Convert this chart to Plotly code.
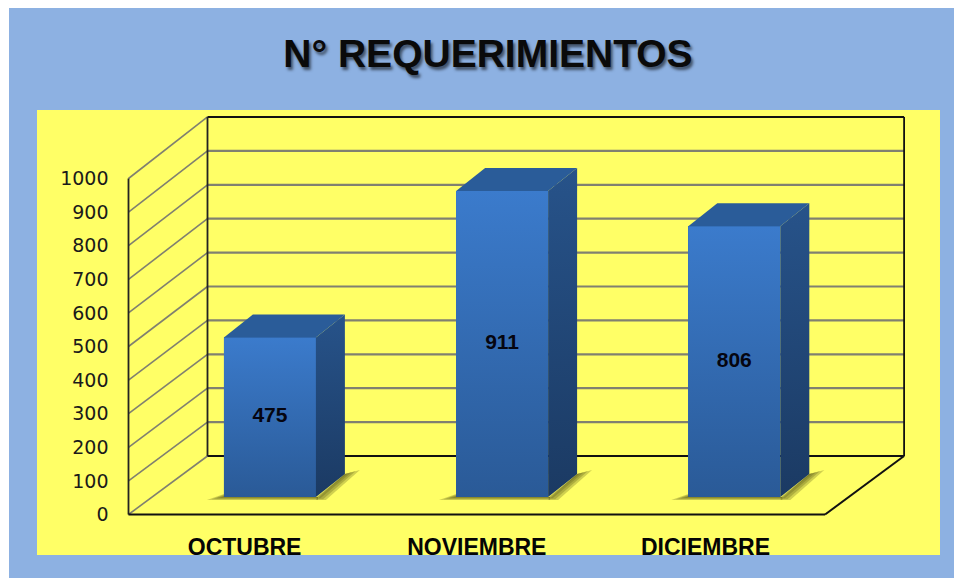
import plotly.graph_objects as go

months = ["OCTUBRE", "NOVIEMBRE", "DICIEMBRE"]
month_ticks = [0.5, 1.5, 2.485]
requirements = [475, 911, 806]
y_ticks = [0, 100, 200, 300, 400, 500, 600, 700, 800, 900, 1000]
title_text = "N° REQUERIMIENTOS"

W, H = 954, 578
X0, Y0 = 128.5, 514.5          # front-left origin of the 3D box, in pixels
UX, UY = 232.2, 0.336          # pixels per category, pixels per value
FONT_BOLD = "Liberation Sans, Arial"


def dx(px):
    return px / UX


def dy(px):
    return px / UY


XR = [-X0 / UX, (W - X0) / UX]
YR = [-(H - Y0) / UY, Y0 / UY]
DEPTH_X, DEPTH_Y = 79.0, 58.5


def wall(col, v, d):
    """Project (category position, value, depth 0..1) on to the axes."""
    return col + dx(DEPTH_X * d), v * (1 + 0.009 * d) + dy(DEPTH_Y * d)


fig = go.Figure()


def line(points, color, width, axes=("x", "y")):
    fig.add_trace(go.Scatter(
        x=[p[0] for p in points], y=[p[1] for p in points], mode="lines",
        line=dict(color=color, width=width), hoverinfo="skip", showlegend=False,
        xaxis=axes[0], yaxis=axes[1],
    ))


n = len(months)
top = y_ticks[-1]
GRID = "#808070"
for v in y_ticks:
    if v:
        line([wall(0, v, 0), wall(0, v, 1)], GRID, 1.6)
        if v < top:
            line([wall(0, v, 1), wall(n, v, 1)], GRID, 2.2)
line([wall(0, 0, 0), wall(0, 0, 1)], GRID, 1.6)
line([wall(0, 0, 1), wall(n, 0, 1)], "#111111", 1.8)
line([wall(0, top, 1), wall(n, top, 1)], "#111111", 2)
line([wall(0, 0, 1), wall(0, top, 1)], "#222222", 1.8)
line([wall(n, 0, 1), wall(n, top, 1)], "#111111", 1.8)
line([wall(0, 0, 0), wall(0, top, 0)], "#222222", 1.8)
line([wall(0, 0, 0), wall(n, 0, 0)], "#111111", 2.2)
line([wall(n, 0, 0), wall(n, 0, 1)], "#111111", 2)

# bars: the front plane sits part-way into the box
BAR_W = dx(92)
BAR_SHIFT = dx(25.3)
BAR_BASE = dy(17.5)
SIDE_X, SIDE_Y = dx(29), dy(23)
centers = [i + 0.5 + BAR_SHIFT for i in range(n)]

fig.add_trace(go.Bar(
    x=centers, y=requirements, base=[BAR_BASE] * n, width=[BAR_W] * n,
    marker=dict(color="#316AB0", line=dict(width=0)), hoverinfo="skip",
    showlegend=False, xaxis="x2", yaxis="y2",
))


def poly(xs, ys, color=None, gradient=None):
    t = go.Scatter(
        x=xs + xs[:1], y=ys + ys[:1], mode="lines", fill="toself",
        line=dict(width=0), hoverinfo="skip", showlegend=False,
        xaxis="x2", yaxis="y2",
    )
    if gradient:
        t.fillgradient = gradient
    else:
        t.fillcolor = color
    fig.add_trace(t)


SHADOW = "rgba(80,80,20,0.27)"
for c in centers:
    l, r = c - BAR_W / 2, c + BAR_W / 2
    b = BAR_BASE
    # soft floor shadow, built up from growing translucent layers
    for s in (1.0, 0.72, 0.45, 0.2):
        poly([r, r + SIDE_X, r + SIDE_X + dx(15 * s), r + dx(10 * s)],
             [b - dy(3 * s), b + SIDE_Y, b + SIDE_Y + dy(4 * s), b - dy(3 * s)],
             color=SHADOW)
        poly([l - dx(17 * s), r + dx(2), r + dx(2), l],
             [b - dy(3 * s), b - dy(3 * s), b, b + dy(3 * s)],
             color=SHADOW)

for c, v in zip(centers, requirements):
    l, r = c - BAR_W / 2, c + BAR_W / 2
    b, t = BAR_BASE, BAR_BASE + v
    # front
    poly([l, r, r, l], [b, b, t, t],
         gradient=dict(type="vertical", colorscale=[[0, "#2A5A97"], [1, "#3B7BCC"]]))
    # side
    poly([r, r + SIDE_X, r + SIDE_X, r], [b, b + SIDE_Y, t + SIDE_Y, t],
         gradient=dict(type="vertical", colorscale=[[0, "#1B3A63"], [1, "#27538A"]]))
    # top
    poly([l, r, r + SIDE_X, l + SIDE_X], [t, t, t + SIDE_Y, t + SIDE_Y], color="#2A5C99")

fig.add_trace(go.Scatter(
    x=centers, y=[BAR_BASE + v / 2 for v in requirements],
    text=[str(v) for v in requirements], mode="text",
    textfont=dict(family=FONT_BOLD, size=21, color="#050510", weight="bold"),
    hoverinfo="skip", showlegend=False, xaxis="x2", yaxis="y2",
))

fig.update_layout(
    width=W, height=H, margin=dict(l=0, r=0, t=0, b=0),
    paper_bgcolor="white", plot_bgcolor="rgba(0,0,0,0)", bargap=0,
    showlegend=False,
    title=dict(
        text=title_text, x=488 / W, xref="paper", xanchor="center",
        y=1 - 53 / H, yref="paper", yanchor="middle",
        font=dict(family=FONT_BOLD, size=39, color="#0A0A0A", weight="bold",
                  shadow="2px 3px 3px rgba(0,0,0,0.55)"),
    ),
    xaxis=dict(
        range=XR, domain=[0, 1], anchor="free", position=(H - Y0) / H,
        tickvals=month_ticks, ticktext=months,
        tickfont=dict(family=FONT_BOLD, size=23, color="#050505", weight="bold"),
        showgrid=False, zeroline=False, showline=False, ticks="", ticklabelstandoff=16,
    ),
    yaxis=dict(
        range=YR, domain=[0, 1], anchor="free", position=X0 / W,
        tickvals=y_ticks, tickfont=dict(family="DejaVu Sans", size=19, color="#1A1A1A"),
        showgrid=False, zeroline=False, showline=False, ticks="", ticklabelstandoff=20,
    ),
    xaxis2=dict(range=XR, overlaying="x", visible=False, anchor="y2"),
    yaxis2=dict(range=YR, overlaying="y", visible=False, anchor="x2"),
    shapes=[
        dict(type="rect", xref="paper", yref="paper", layer="below",
             x0=9 / W, x1=1, y0=0, y1=1 - 8 / H,
             fillcolor="#8DB1E2", line=dict(width=0)),
        dict(type="rect", xref="paper", yref="paper", layer="below",
             x0=37 / W, x1=940 / W, y0=1 - 555 / H, y1=1 - 110 / H,
             fillcolor="#FFFF66", line=dict(width=0)),
    ],
)

fig.write_html(
    "out.html",
    config={"displayModeBar": False},
    post_script="document.body.style.margin='0';document.body.style.overflow='hidden';",
)
